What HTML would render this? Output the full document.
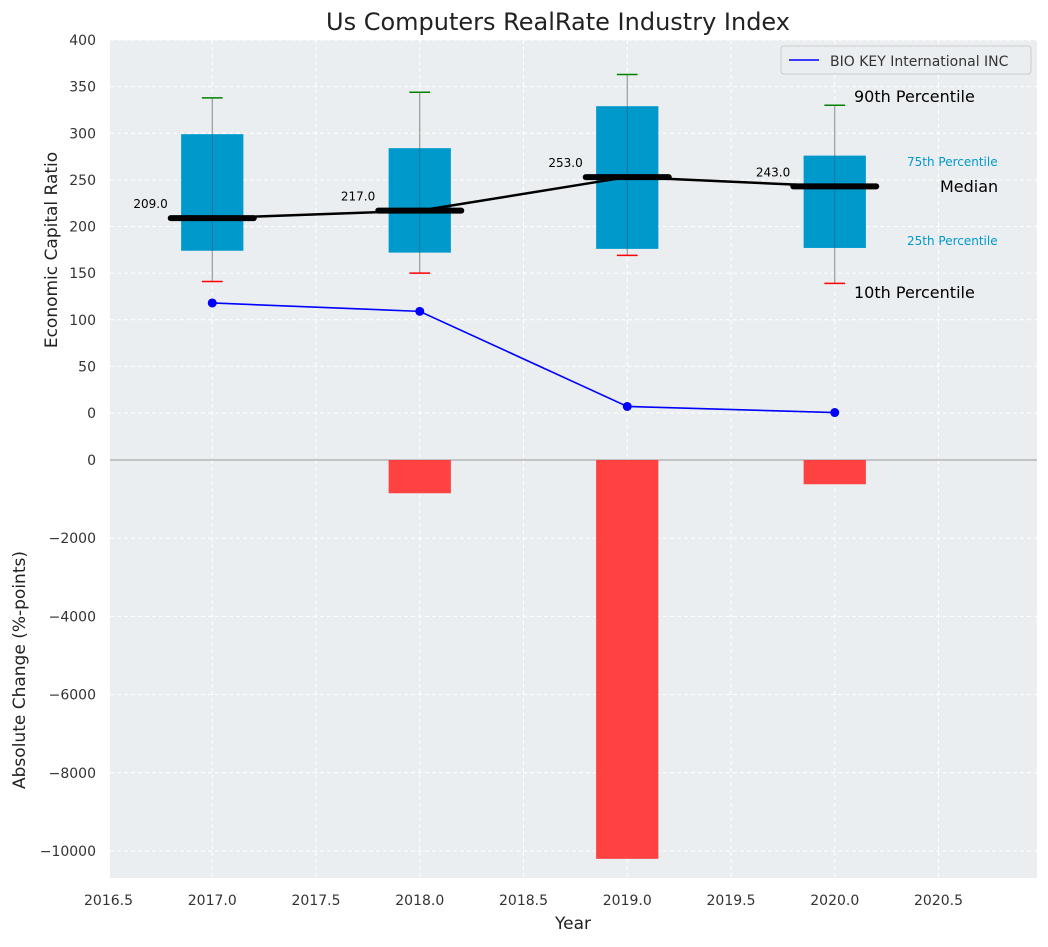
<!DOCTYPE html>
<html><head><meta charset="utf-8"><style>
body{margin:0;background:#fff;font-family:"Liberation Sans","DejaVu Sans",sans-serif}
svg text{font-family:"DejaVu Sans","Liberation Sans",sans-serif}
</style></head><body>
<svg id="c" width="1048" height="942"></svg>
<script>
const years=[2017,2018,2019,2020];
const p10=[141,150,169,139];
const q1=[174,172,176,177];
const med=[209,217,253,243];
const q3=[299,284,329,276];
const p90=[338,344,363,330];
const company=[118,109,7,0.5];
const changes=[0,-850,-10200,-620];
const topTicks=[0,50,100,150,200,250,300,350,400];
const botTicks=[0,-2000,-4000,-6000,-8000,-10000];
const xTicks=[2016.5,2017,2017.5,2018,2018.5,2019,2019.5,2020,2020.5];

const svg=document.getElementById('c');
const NS='http://www.w3.org/2000/svg';
function el(t,a,txt){const e=document.createElementNS(NS,t);for(const k in a)e.setAttribute(k,a[k]);if(txt!==undefined)e.textContent=txt;svg.appendChild(e);return e;}
const X0=110,X1=1037;
const x=v=>108.5+(v-2016.5)*207.5;
const yT=v=>413-v*0.9325;
const yB=v=>460-v*0.0391;

let e;
e=el('rect',{x:X0,y:40,width:X1-X0,height:420,fill:'#eaeef0'});

e=el('rect',{x:X0,y:460,width:X1-X0,height:418,fill:'#eaeef0'});

// grids
xTicks.forEach(t=>{
 e=el('line',{x1:x(t),x2:x(t),y1:40,y2:878,stroke:'#fff','stroke-dasharray':'4,3','stroke-width':1});
 
 e=el('text',{x:x(t),y:905,'text-anchor':'middle','font-size':14,fill:'#333'},t.toFixed(1));
 
});
topTicks.forEach(t=>{
 e=el('line',{x1:X0,x2:X1,y1:yT(t),y2:yT(t),stroke:'#fff','stroke-dasharray':'4,3'});
 
 e=el('text',{x:96,y:yT(t)+5,'text-anchor':'end','font-size':14,fill:'#333'},t);
 
});
botTicks.forEach(t=>{
 e=el('line',{x1:X0,x2:X1,y1:yB(t),y2:yB(t),stroke:'#fff','stroke-dasharray':'4,3'});
 
 e=el('text',{x:96,y:yB(t)+5,'text-anchor':'end','font-size':14,fill:'#333'},t===0?'0':'\u2212'+Math.abs(t));
 
});
e=el('line',{x1:X0,x2:X1,y1:460,y2:460,stroke:'#aaa','stroke-width':1.2});


// boxes
const bw=0.15;
years.forEach((yr,i)=>{
 e=el('line',{x1:x(yr),x2:x(yr),y1:yT(p10[i]),y2:yT(p90[i]),stroke:'#888','stroke-width':1});
 
 e=el('rect',{x:x(yr-bw),y:yT(q3[i]),width:x(yr+bw)-x(yr-bw),height:yT(q1[i])-yT(q3[i]),fill:'#0099cc'});
 
 e=el('line',{x1:x(yr),x2:x(yr),y1:yT(q1[i]),y2:yT(q3[i]),stroke:'#446','stroke-width':0.8,opacity:0.6});
 
 e=el('line',{x1:x(yr-0.05),x2:x(yr+0.05),y1:yT(p90[i]),y2:yT(p90[i]),stroke:'green','stroke-width':1.5});
 
 e=el('line',{x1:x(yr-0.05),x2:x(yr+0.05),y1:yT(p10[i]),y2:yT(p10[i]),stroke:'red','stroke-width':1.5});
 
 e=el('line',{x1:x(yr-0.2),x2:x(yr+0.2),y1:yT(med[i]),y2:yT(med[i]),stroke:'#000','stroke-width':6,'stroke-linecap':'round'});
 
 e=el('text',{x:x(yr-0.2)-3,y:yT(med[i])-10,'text-anchor':'end','font-size':12,fill:'#000'},med[i].toFixed(1));
 
});
e=el('polyline',{points:years.map((yr,i)=>x(yr)+','+yT(med[i])).join(' '),fill:'none',stroke:'#000','stroke-width':2.5});

e=el('polyline',{points:years.map((yr,i)=>x(yr)+','+yT(company[i])).join(' '),fill:'none',stroke:'blue','stroke-width':1.6});

years.forEach((yr,i)=>{
 e=el('circle',{cx:x(yr),cy:yT(company[i]),r:4.5,fill:'blue'});
 
 if(changes[i]!==0){
 e=el('rect',{x:x(yr-bw),y:460,width:x(yr+bw)-x(yr-bw),height:yB(changes[i])-460,fill:'#ff3333',opacity:0.92});
 }
});
// annotations
const ann=[[854,102,'90th Percentile',16,'#000'],[907,166,'75th Percentile',12,'#0099cc'],[940,192,'Median',16,'#000'],[907,245,'25th Percentile',12,'#0099cc'],[854,298,'10th Percentile',16,'#000']];
ann.forEach(a=>{e=el('text',{x:a[0],y:a[1],'font-size':a[3],fill:a[4]},a[2]);
 });
// legend
e=el('rect',{x:781,y:46,width:250,height:28,fill:'#eaeef0',stroke:'#ccc',rx:3});

e=el('line',{x1:789,x2:819,y1:60,y2:60,stroke:'blue','stroke-width':1.6});

e=el('text',{x:830,y:66,'font-size':14,fill:'#333'},'BIO KEY International INC');

// titles
e=el('text',{x:558,y:30,'text-anchor':'middle','font-size':24,fill:'#222'},'Us Computers RealRate Industry Index');

e=el('text',{x:573,y:929,'text-anchor':'middle','font-size':17,fill:'#222'},'Year');

e=el('text',{x:0,y:0,'text-anchor':'middle','font-size':17,fill:'#222',transform:'translate(57,250) rotate(-90)'},'Economic Capital Ratio');

e=el('text',{x:0,y:0,'text-anchor':'middle','font-size':17,fill:'#222',transform:'translate(25,670) rotate(-90)'},'Absolute Change (%-points)');

</script>
</body></html>
